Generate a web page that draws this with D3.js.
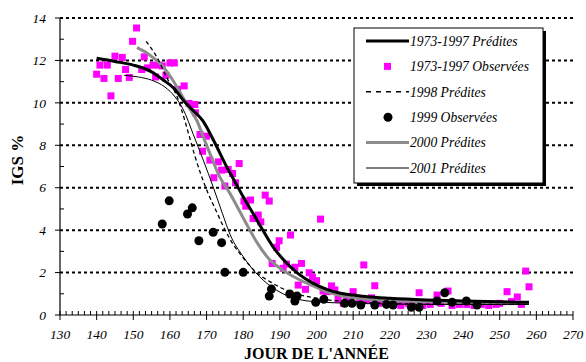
<!DOCTYPE html>
<html>
<head>
<meta charset="utf-8">
<script src="https://cdn.jsdelivr.net/npm/d3@7"></script>
<style>
  body { margin: 0; background: #fff; }
  svg { display: block; }
  .tick-label { font-family: "Liberation Serif", "Times New Roman", serif; font-style: italic; font-size: 13.5px; }
  .legend-text { font-family: "Liberation Serif", "Times New Roman", serif; font-style: italic; font-size: 13.6px; }
  .axis-title { font-family: "Liberation Serif", "Times New Roman", serif; font-weight: bold; font-size: 16px; }
</style>
</head>
<body>
<div id="chart"></div>
<script>
// Chart data
const xTicks = [130, 140, 150, 160, 170, 180, 190, 200, 210, 220, 230, 240, 250, 260, 270];
const yTicks = [0, 2, 4, 6, 8, 10, 12, 14];

// 1973-1997 Prédites (thick black)
const pred7397 = [[140,12.1],[145,11.95],[150,11.78],[155,11.46],[158,11.1],[161,10.7],[164,10.05],[166,9.7],[169,9.15],[172,8.2],[175,7.15],[178,6.2],[180,5.57],[183,4.7],[185,4.1],[188,3.25],[191,2.6],[195,1.95],[199,1.5],[203,1.2],[206,1.05],[210,0.94],[214,0.86],[220,0.79],[230,0.71],[240,0.66],[250,0.62],[258,0.6]];

// 1998 Prédites (dashed)
const pred1998 = [[153.5,12.9],[156.4,12.17],[159.5,11.07],[161.8,10.36],[163.2,9.66],[165,8.6],[166.8,7.5],[168.5,6.6],[170.5,5.7],[172.5,4.95],[174.5,4.2],[177,3.4],[180,2.7],[183,2.1],[188,1.5],[192.7,1.1],[200,0.79],[210,0.62],[220,0.55],[240,0.5],[258,0.5]];

// 2000 Prédites (grey)
const pred2000 = [[151,12.6],[154,12.32],[157.7,11.78],[160.5,11.15],[163.2,10.36],[165.9,9.58],[167.3,9.18],[169.1,8.4],[170.9,7.62],[173.6,6.51],[176.4,5.73],[179,4.9],[181.5,4.1],[184,3.35],[187,2.65],[190.5,2.15],[195.5,1.65],[199.1,1.37],[202.7,1.1],[207,0.9],[212,0.78],[220,0.68],[230,0.62],[245,0.58],[258,0.56]];

// 2001 Prédites (thin black)
const pred2001 = [[147.5,11.3],[151.4,11.22],[155,11.07],[158.6,10.75],[161.4,10.28],[163.6,9.7],[166.4,8.5],[169.1,7.3],[171.8,6.04],[174.3,4.8],[176.4,3.8],[180,2.75],[184.5,1.8],[189,1.18],[195.5,0.72],[202,0.6],[210,0.55],[230,0.5],[258,0.5]];

// 1973-1997 Observées (magenta squares)
const obs7397 = [[140,11.35],[140.9,11.78],[142,11.15],[142.9,11.78],[143.9,10.33],[145,12.2],[145.9,11.15],[147,12.14],[147.9,11.57],[148.9,11.2],[149.8,12.9],[150.9,13.53],[152.3,11.57],[153,12.17],[153.9,11.65],[155.4,11.78],[156.1,11.22],[157,11.78],[157.9,11.74],[158.9,11.3],[160,11.88],[161.2,11.88],[162.1,10.64],[163.9,10.8],[165.2,9.97],[166.8,9.92],[167,9.53],[168.2,8.51],[170,8.43],[168.9,7.72],[170.9,7.3],[173.2,7.22],[178.9,7.14],[174.1,6.83],[175.9,6.86],[177.1,6.67],[172,6.47],[177.9,6.23],[175,6.08],[180.2,5.37],[182,5.42],[186,5.65],[187.1,5.37],[180.7,5.13],[182.7,4.55],[184.1,4.71],[184.8,4.39],[201.1,4.52],[192.9,3.77],[189.8,3.5],[189.1,3.19],[187.9,2.43],[191.8,2.4],[195.9,2.43],[190.9,2.2],[194.1,2.25],[198,1.99],[198.9,1.78],[200,1.62],[195,1.41],[197,1.21],[204.1,1.37],[201.8,1.13],[202.9,1.1],[205,1.18],[205.9,0.74],[210,1.1],[212.9,2.36],[208.2,0.78],[207.3,0.55],[213.8,0.71],[211.8,0.71],[215.9,1.38],[215,0.81],[217,0.55],[219,0.6],[221,0.5],[223,0.45],[225,0.55],[226,0.5],[228,1.05],[229,0.45],[231,0.5],[232.9,0.94],[234,0.55],[235.9,1.13],[237,0.45],[239,0.5],[241,0.5],[243,0.45],[245,0.5],[247,0.45],[249,0.5],[250,0.55],[252,1.1],[253.2,0.63],[254.8,0.85],[255.9,0.5],[257.1,2.07],[258,1.33]];

// 1999 Observées (black dots)
const obs1999 = [[157.9,4.29],[159.8,5.38],[164.8,4.76],[166.1,5.05],[167.9,3.5],[171.8,3.9],[174.1,3.41],[175,2.01],[180,2.01],[187.7,1.22],[187.1,0.89],[192.7,0.99],[194.1,0.66],[194.7,0.89],[199.8,0.6],[202,0.74],[207.7,0.55],[209.7,0.55],[212.1,0.47],[215.9,0.47],[219.1,0.5],[220.9,0.47],[225.9,0.36],[228,0.36],[232.9,0.66],[235,1.05],[237,0.6],[240.9,0.66],[243.8,0.47]];

const legendLabels = ["1973-1997 Prédites", "1973-1997 Observées", "1998 Prédites", "1999 Observées", "2000 Prédites", "2001 Prédites"];

// Dimensions
const width = 586;
const height = 362;
const margin = {top: 18, right: 13, bottom: 47, left: 60};

const svg = d3.select("#chart")
  .append("svg")
  .attr("width", width)
  .attr("height", height);

const x = d3.scaleLinear().domain([130, 270]).range([margin.left, width - margin.right]);
const y = d3.scaleLinear().domain([0, 14]).range([height - margin.bottom, margin.top]);

// Dotted grid lines
svg.append("g")
  .selectAll("line")
  .data(yTicks.filter(d => d > 0))
  .enter()
  .append("line")
  .attr("x1", x(130))
  .attr("x2", x(270))
  .attr("y1", d => y(d))
  .attr("y2", d => y(d))
  .attr("stroke", "#000")
  .attr("stroke-width", 2)
  .attr("stroke-dasharray", "3,3");

// Y axis: major ticks out, minor ticks in
const yAxis = svg.append("g").attr("transform", "translate(" + x(130) + ",0)");
yAxis.append("line")
  .attr("y1", y(0)).attr("y2", y(14))
  .attr("stroke", "#000").attr("stroke-width", 1.2);
yAxis.selectAll(".ymaj")
  .data(yTicks)
  .enter()
  .append("line")
  .attr("x1", -5).attr("x2", 0)
  .attr("y1", d => y(d)).attr("y2", d => y(d))
  .attr("stroke", "#000");
yAxis.selectAll(".ymin")
  .data(d3.range(1, 14, 2))
  .enter()
  .append("line")
  .attr("x1", 0).attr("x2", 4)
  .attr("y1", d => y(d)).attr("y2", d => y(d))
  .attr("stroke", "#000");
yAxis.selectAll("text")
  .data(yTicks)
  .enter()
  .append("text")
  .attr("class", "tick-label")
  .attr("x", -14)
  .attr("y", d => y(d))
  .attr("dy", "0.35em")
  .attr("text-anchor", "end")
  .text(d => d);

// X axis: major ticks cross, minor ticks up
const xAxis = svg.append("g").attr("transform", "translate(0," + y(0) + ")");
xAxis.append("line")
  .attr("x1", x(130)).attr("x2", x(270))
  .attr("stroke", "#000").attr("stroke-width", 1.2);
xAxis.selectAll(".xmaj")
  .data(xTicks)
  .enter()
  .append("line")
  .attr("x1", d => x(d)).attr("x2", d => x(d))
  .attr("y1", -4).attr("y2", 5)
  .attr("stroke", "#000");
const minorX = [];
xTicks.slice(0, -1).forEach(t => { for (let i = 1; i < 6; i++) minorX.push(t + i * 10 / 6); });
xAxis.selectAll(".xmin")
  .data(minorX)
  .enter()
  .append("line")
  .attr("x1", d => x(d)).attr("x2", d => x(d))
  .attr("y1", -4).attr("y2", 0)
  .attr("stroke", "#000");
xAxis.selectAll("text")
  .data(xTicks)
  .enter()
  .append("text")
  .attr("class", "tick-label")
  .attr("x", d => x(d))
  .attr("y", 24)
  .attr("text-anchor", "middle")
  .text(d => d);

// Axis titles
svg.append("text")
  .attr("class", "axis-title")
  .attr("transform", "translate(23,160) rotate(-90)")
  .attr("text-anchor", "middle")
  .style("font-size", "17px")
  .text("IGS %");

svg.append("text")
  .attr("class", "axis-title")
  .attr("x", (x(130) + x(270)) / 2)
  .attr("y", 359)
  .attr("text-anchor", "middle")
  .text("JOUR DE L'ANNÉE");

// Observed squares
svg.append("g")
  .selectAll("rect")
  .data(obs7397)
  .enter()
  .append("rect")
  .attr("x", d => x(d[0]) - 3.5)
  .attr("y", d => y(d[1]) - 3.5)
  .attr("width", 7)
  .attr("height", 7)
  .attr("fill", "#ff00ff");

// Predicted lines
const line = d3.line()
  .x(d => x(d[0]))
  .y(d => y(d[1]))
  .curve(d3.curveMonotoneX);

const series = [
  {data: pred2000, stroke: "#8c8c8c", width: 3, dash: null},
  {data: pred2001, stroke: "#000", width: 1, dash: null},
  {data: pred1998, stroke: "#000", width: 1.3, dash: "4,3"},
  {data: pred7397, stroke: "#000", width: 3, dash: null}
];

series.forEach(s => {
  svg.append("path")
    .datum(s.data)
    .attr("d", line)
    .attr("fill", "none")
    .attr("stroke", s.stroke)
    .attr("stroke-width", s.width)
    .attr("stroke-dasharray", s.dash);
});

// 1999 observed dots
svg.append("g")
  .selectAll("circle")
  .data(obs1999)
  .enter()
  .append("circle")
  .attr("cx", d => x(d[0]))
  .attr("cy", d => y(d[1]))
  .attr("r", 4.5)
  .attr("fill", "#000");

// Legend box with shadow
const legend = svg.append("g").attr("transform", "translate(354,28)");
legend.append("rect")
  .attr("x", 3).attr("y", 3)
  .attr("width", 189).attr("height", 155)
  .attr("fill", "#000");
legend.append("rect")
  .attr("x", 0).attr("y", 0)
  .attr("width", 189).attr("height", 155)
  .attr("fill", "#fff")
  .attr("stroke", "#000")
  .attr("stroke-width", 1);

const legendItems = [
  {type: "line", stroke: "#000", width: 3, dash: null},
  {type: "square"},
  {type: "line", stroke: "#000", width: 1.5, dash: "5,5"},
  {type: "circle"},
  {type: "line", stroke: "#8c8c8c", width: 3, dash: null},
  {type: "line", stroke: "#000", width: 1, dash: null}
];

legendItems.forEach((item, i) => {
  const ly = 13 + i * 25.4;
  if (item.type === "line") {
    legend.append("line")
      .attr("x1", 12).attr("x2", 55)
      .attr("y1", ly).attr("y2", ly)
      .attr("stroke", item.stroke)
      .attr("stroke-width", item.width)
      .attr("stroke-dasharray", item.dash);
  } else if (item.type === "square") {
    legend.append("rect")
      .attr("x", 30).attr("y", ly - 3.5)
      .attr("width", 7).attr("height", 7)
      .attr("fill", "#ff00ff");
  } else {
    legend.append("circle")
      .attr("cx", 34).attr("cy", ly)
      .attr("r", 4.5)
      .attr("fill", "#000");
  }
  legend.append("text")
    .attr("class", "legend-text")
    .attr("x", 56)
    .attr("y", ly)
    .attr("dy", "0.35em")
    .text(legendLabels[i]);
});
</script>
</body>
</html>
